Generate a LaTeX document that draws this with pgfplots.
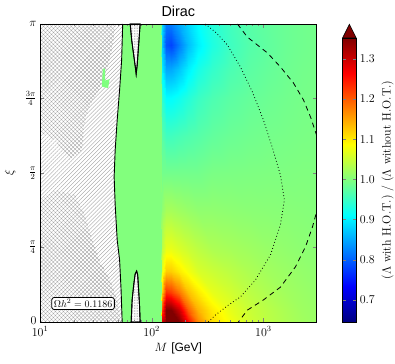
\documentclass[border=0pt]{standalone}
\usepackage{fontspec}
\usepackage{pgfplots}
\pgfplotsset{compat=1.18}
\usetikzlibrary{patterns.meta}
\newfontfamily\sffont{Liberation Sans}

% hatch styles
\tikzset{
  hatchA/.style={pattern={Lines[angle=45,distance=2.8pt,line width=0.35pt]},pattern color=black!38},
  hatchB/.style={pattern={Lines[angle=-45,distance=2.8pt,line width=0.35pt]},pattern color=black!38},
  dotsC/.style={pattern={Dots[distance=1.6pt,radius=0.28pt]},pattern color=black!70},
}

\begin{document}
\begin{tikzpicture}
\useasboundingbox (0,0) rectangle (395pt,363pt);
\begin{axis}[
  at={(40pt,41pt)}, anchor=south west,
  scale only axis, width=276.7pt, height=298pt,
  xmode=log, xmin=10, xmax=3000, ymin=0, ymax=1,
  xtick={10,100,1000},
  ytick={0,0.25,0.5,0.75,1},
  yticklabels={\raisebox{3pt}{$0$},$\frac{\pi}{4}$,$\frac{\pi}{2}$,$\frac{3\pi}{4}$,$\pi$},
  tick label style={font=\fontsize{12}{14}\selectfont},
  xticklabel style={yshift=-1pt},
  label style={font=\fontsize{12}{14}\selectfont},
  title={\sffont Dirac},
  title style={font=\fontsize{14.4}{16}\selectfont, yshift=-2pt},
  xlabel={$M$ {\sffont [GeV]}},
  ylabel={$\xi$},
  ylabel style={at={(axis description cs:-0.108,0.5)}, anchor=center},
  axis line style={line width=0.8pt},
  major tick length=4pt, minor tick length=2pt,
  axis on top,
  colormap/jet,
  point meta min=0.645, point meta max=1.352,
  colorbar,
  colorbar style={
    at={(parent axis.south east)}, anchor=south west, xshift=17.3pt,
    scale only axis, width=13.7pt, height=284pt,
    ytick={0.7,0.8,0.9,1.0,1.1,1.2,1.3},
    yticklabel style={/pgf/number format/.cd, fixed, fixed zerofill, precision=1},
    tick label style={font=\fontsize{12}{14}\selectfont},
    ylabel={(\(\Lambda\) with H.O.T.) / (\(\Lambda\) without H.O.T.)},
    ylabel style={font=\fontsize{12}{14}\selectfont},
    axis line style={line width=0.6pt},
    major tick length=3pt,
    extra description/.code={
      \draw[line width=0.6pt, fill={rgb,255:red,128;green,0;blue,0}]
        (axis description cs:0,1) -- (axis description cs:0.5,1.0482)
        -- (axis description cs:1,1) -- cycle;
    },
  },
]

% ratio map
\addplot[surf, shader=interp, mesh/ordering=y varies, mesh/rows=12, mesh/cols=15,
  point meta=explicit] table[x=M, y=xi, meta=c] {
M xi c
40 0 1.0
40 0.04 1.0
40 0.1 1.0
40 0.17 1.0
40 0.25 1.0
40 0.375 1.0
40 0.5 1.0
40 0.625 1.0
40 0.75 1.0
40 0.85 1.0
40 0.93 1.0
40 1.0 1.0
120 0 1.0
120 0.04 1.0
120 0.1 1.0
120 0.17 1.0
120 0.25 1.0
120 0.375 1.0
120 0.5 1.0
120 0.625 1.0
120 0.75 1.0
120 0.85 1.0
120 0.93 1.0
120 1.0 1.0
124 0 1.30
124 0.04 1.22
124 0.1 1.12
124 0.17 1.07
124 0.25 1.04
124 0.375 1.01
124 0.5 0.99
124 0.625 0.97
124 0.75 0.94
124 0.85 0.90
124 0.93 0.87
124 1.0 0.89
135 0 1.50
135 0.04 1.38
135 0.1 1.23
135 0.17 1.12
135 0.25 1.07
135 0.375 1.025
135 0.5 0.99
135 0.625 0.955
135 0.75 0.91
135 0.85 0.85
135 0.93 0.79
135 1.0 0.82
150 0 1.50
150 0.04 1.38
150 0.1 1.22
150 0.17 1.12
150 0.25 1.07
150 0.375 1.025
150 0.5 0.99
150 0.625 0.955
150 0.75 0.91
150 0.85 0.85
150 0.93 0.78
150 1.0 0.82
175 0 1.40
175 0.04 1.30
175 0.1 1.18
175 0.17 1.10
175 0.25 1.06
175 0.375 1.02
175 0.5 0.99
175 0.625 0.96
175 0.75 0.92
175 0.85 0.87
175 0.93 0.82
175 1.0 0.85
210 0 1.26
210 0.04 1.20
210 0.1 1.13
210 0.17 1.08
210 0.25 1.05
210 0.375 1.015
210 0.5 0.99
210 0.625 0.965
210 0.75 0.935
210 0.85 0.90
210 0.93 0.865
210 1.0 0.88
260 0 1.17
260 0.04 1.14
260 0.1 1.10
260 0.17 1.06
260 0.25 1.04
260 0.375 1.01
260 0.5 0.99
260 0.625 0.97
260 0.75 0.95
260 0.85 0.925
260 0.93 0.90
260 1.0 0.91
350 0 1.11
350 0.04 1.10
350 0.1 1.07
350 0.17 1.05
350 0.25 1.03
350 0.375 1.01
350 0.5 0.995
350 0.625 0.978
350 0.75 0.963
350 0.85 0.945
350 0.93 0.93
350 1.0 0.935
500 0 1.08
500 0.04 1.07
500 0.1 1.055
500 0.17 1.04
500 0.25 1.025
500 0.375 1.008
500 0.5 0.996
500 0.625 0.984
500 0.75 0.973
500 0.85 0.962
500 0.93 0.953
500 1.0 0.955
750 0 1.055
750 0.04 1.05
750 0.1 1.04
750 0.17 1.03
750 0.25 1.02
750 0.375 1.006
750 0.5 0.997
750 0.625 0.988
750 0.75 0.98
750 0.85 0.973
750 0.93 0.968
750 1.0 0.97
1100 0 1.04
1100 0.04 1.038
1100 0.1 1.03
1100 0.17 1.022
1100 0.25 1.015
1100 0.375 1.005
1100 0.5 0.998
1100 0.625 0.991
1100 0.75 0.985
1100 0.85 0.98
1100 0.93 0.977
1100 1.0 0.978
1600 0 1.03
1600 0.04 1.028
1600 0.1 1.022
1600 0.17 1.017
1600 0.25 1.011
1600 0.375 1.004
1600 0.5 0.998
1600 0.625 0.993
1600 0.75 0.989
1600 0.85 0.986
1600 0.93 0.984
1600 1.0 0.984
2200 0 1.022
2200 0.04 1.02
2200 0.1 1.017
2200 0.17 1.013
2200 0.25 1.008
2200 0.375 1.003
2200 0.5 0.999
2200 0.625 0.995
2200 0.75 0.992
2200 0.85 0.99
2200 0.93 0.988
2200 1.0 0.988
3000 0 1.017
3000 0.04 1.016
3000 0.1 1.013
3000 0.17 1.01
3000 0.25 1.006
3000 0.375 1.002
3000 0.5 0.999
3000 0.625 0.996
3000 0.75 0.994
3000 0.85 0.992
3000 0.93 0.991
3000 1.0 0.991
};

% excluded region left of the relic-density line
\addplot[draw=none, fill=white, postaction={hatchA}] coordinates {
(10,0) (10,1) (55.0,1) (53.8,0.879) (51.6,0.779) (49.1,0.678) (47.1,0.577)
(46.1,0.487) (47.1,0.393) (49.1,0.275) (51.6,0.208) (53.2,0.107) (54.4,0)} -- cycle;
\addplot[draw=none, hatchB] coordinates {
(10,1) (47.6,1) (44.2,0.913) (40.7,0.862) (34.5,0.785) (28.1,0.728) (24.8,0.661)
(23.8,0.577) (18.58,0.544) (13.63,0.611) (10,0.638)} -- cycle;
\addplot[draw=none, hatchB] coordinates {
(10,0.409) (13.63,0.443) (20.6,0.426) (25.3,0.359) (29.3,0.275) (34.5,0.201)
(42.4,0.141) (49.1,0.074) (53.2,0) (10,0)} -- cycle;
\addplot[draw=none, fill={rgb,255:red,127;green,255;blue,127}] coordinates {
(36.5,0.85) (38.3,0.85) (38.3,0.81) (42.0,0.815) (40.7,0.785) (35.8,0.79)} -- cycle;

% resonance spikes
\addplot[black, line width=0.9pt, fill=white, postaction={dotsC}] coordinates {
(64.2,1) (66.2,0.946) (69.0,0.896) (71.9,0.846) (72.6,0.832) (74.1,0.862)
(76.4,0.930) (78.8,1)} -- cycle;
\addplot[black, line width=0.9pt, fill=white, postaction={dotsC}] coordinates {
(65.5,0) (66.8,0.074) (69.0,0.124) (71.1,0.161) (73.3,0.171) (74.9,0.158)
(76.4,0.107) (77.8,0.057) (78.8,0)} -- cycle;

% relic density line
\addplot[black, line width=0.9pt] coordinates {
(55.0,1) (53.8,0.879) (51.6,0.779) (49.1,0.678) (47.1,0.577) (46.1,0.487)
(47.1,0.393) (49.1,0.275) (51.6,0.208) (53.2,0.107) (54.4,0)};

% dotted contour
\addplot[black, line width=0.8pt, dash pattern=on 0.8pt off 2.4pt] coordinates {
(302,1) (379,0.970) (475,0.930) (622,0.856) (797,0.772) (1000,0.678) (1205,0.584)
(1420,0.493) (1542,0.409) (1420,0.326) (1156,0.225) (848,0.141) (622,0.084)
(486,0.057) (371,0.023) (321,0)};

% dashed contour
\addplot[black, line width=0.8pt, dash pattern=on 5pt off 4pt] coordinates {
(585,1) (719,0.956) (1086,0.903) (1420,0.856) (1858,0.802) (2285,0.745)
(2640,0.688) (3100,0.61)};
\addplot[black, line width=0.8pt, dash pattern=on 5pt off 4pt] coordinates {
(3100,0.39) (2749,0.319) (2380,0.252) (1936,0.185) (1420,0.117) (1000,0.074)
(719,0.040) (597,0)};

\node[draw, fill=white, rounded corners=2.5pt, line width=0.8pt, inner sep=2pt,
  font=\fontsize{10}{12}\selectfont] at (axis cs:24.3,0.062) {$\Omega h^2 = 0.1186$};
\end{axis}
\end{tikzpicture}
\end{document}
